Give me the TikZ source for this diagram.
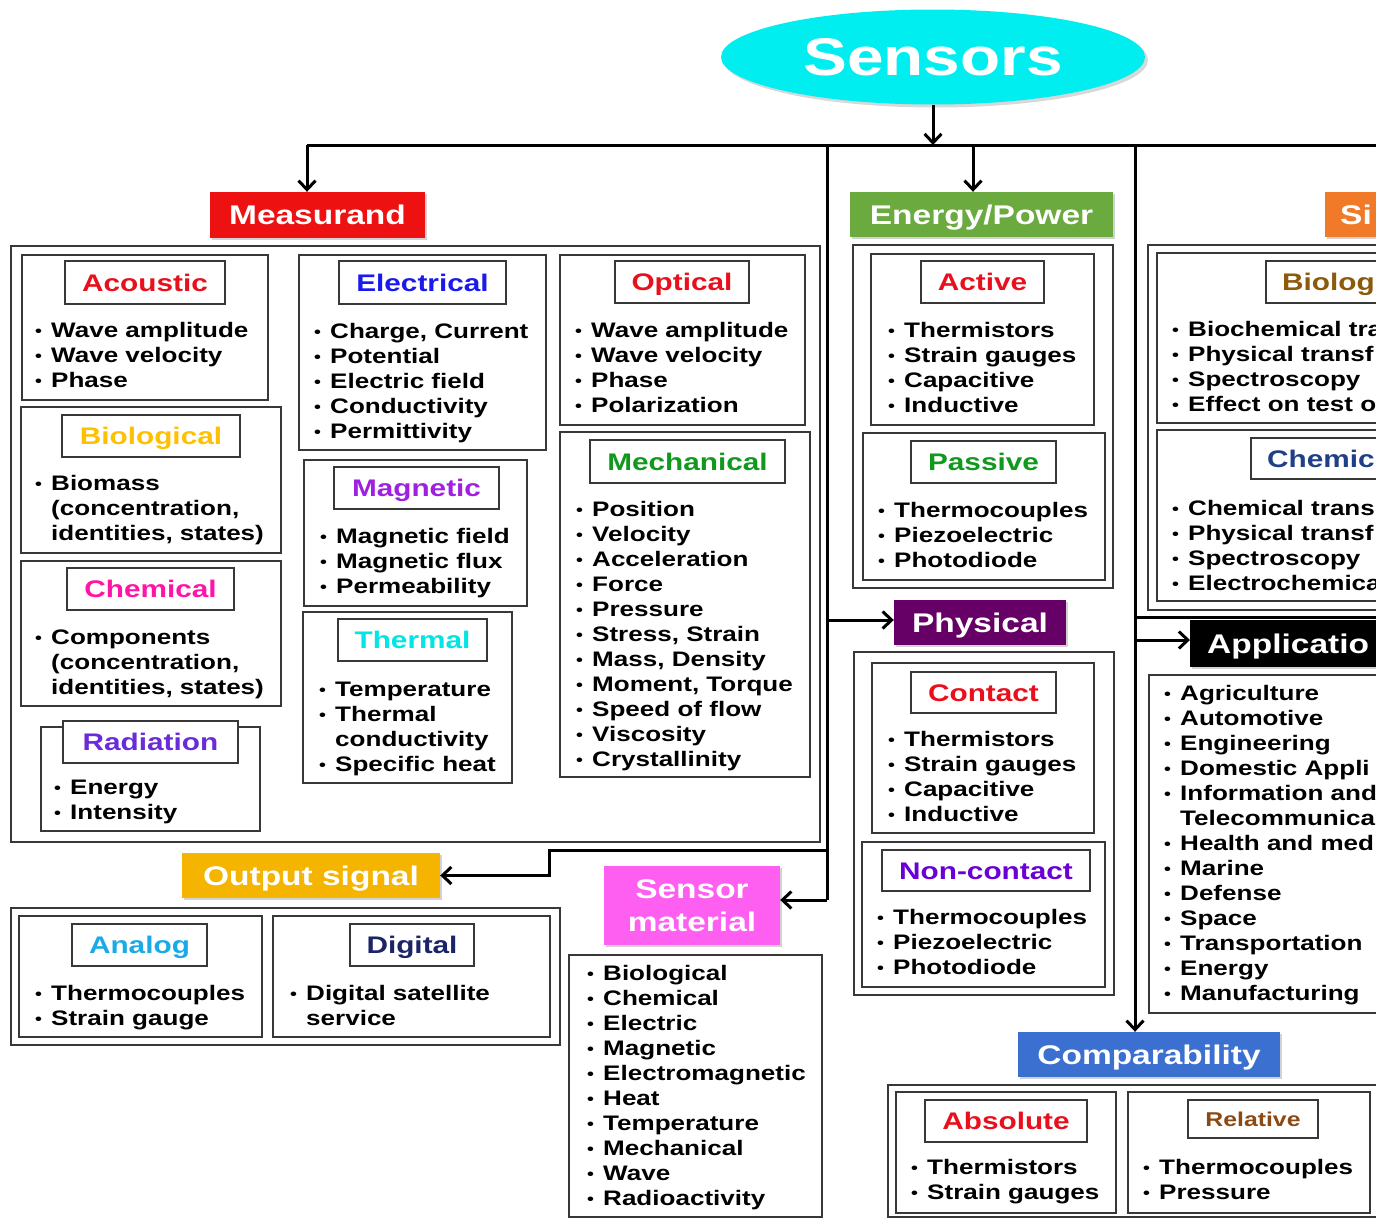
\documentclass[tikz,border=0pt]{standalone}
\usepackage{fontspec}
\setmainfont{Liberation Sans}[FakeStretch=1.24]
\usetikzlibrary{arrows.meta,shadows,shapes.geometric}
\definecolor{cyanS}{HTML}{00EEF0}
\definecolor{redL}{HTML}{EE1111}
\definecolor{greenL}{HTML}{6BAA3F}
\definecolor{purpleL}{HTML}{660066}
\definecolor{orangeL}{HTML}{F07A28}
\definecolor{blueL}{HTML}{3B6FD0}
\definecolor{goldL}{HTML}{F4B400}
\definecolor{pinkL}{HTML}{FF5FF0}
\definecolor{tRed}{HTML}{E8101C}
\definecolor{tGold}{HTML}{FFC000}
\definecolor{tPink}{HTML}{FF14A8}
\definecolor{tViolet}{HTML}{6A2BD8}
\definecolor{tBlue}{HTML}{1A1AEE}
\definecolor{tMag}{HTML}{A020E0}
\definecolor{tCyan}{HTML}{00E5E5}
\definecolor{tGreen}{HTML}{11991E}
\definecolor{tNon}{HTML}{6A00D6}
\definecolor{tBrown}{HTML}{8C5A0A}
\definecolor{tNavy}{HTML}{1F3F86}
\definecolor{tRel}{HTML}{8B4A14}
\definecolor{tSky}{HTML}{1AAAE8}
\definecolor{tDig}{HTML}{1B2466}
\newcommand\itemfont{\bfseries\fontsize{21}{25}\selectfont}
\newcommand\ttlfont{\bfseries\fontsize{24}{28}\selectfont}
\newcommand\lblfont{\bfseries\fontsize{27}{33}\selectfont}
\newcommand\bl{\strut\makebox[16pt][l]{\raisebox{1pt}{\scalebox{0.75}{\textbullet}}}}
\newcommand\ct{\strut\hspace*{16pt}}
\newcommand\tbox[7]{\node[ttl,text=#6,minimum width={#4-#2},minimum height={#5-#3}] (#1) at ({(#2+#4)/2},{(#3+#5)/2}) {#7};}
\newcommand\lbox[7]{\node[lbl,fill=#6,minimum width={#4-#2},minimum height={#5-#3}] (#1) at ({(#2+#4)/2},{(#3+#5)/2}) {#7};}
\newcommand\itm[4]{\node[items] (#1) at (#2,{#3-10}) {#4};}
\begin{document}
\begin{tikzpicture}[x=1pt,y=-1pt,
  box/.style={draw=black!78,line width=1.8pt},
  ttl/.style={draw=black!78,line width=1.8pt,fill=white,font=\ttlfont,inner sep=0pt,text height=17.5pt,text depth=0pt},
  lbl/.style={font=\lblfont,text=white,inner sep=0pt,text height=19.5pt,text depth=0pt,drop shadow={shadow xshift=2pt,shadow yshift=-2pt,opacity=0.35}},
  items/.style={anchor=north west,inner sep=0pt,align=left,font=\itemfont},
  conn/.style={line width=3pt,draw=black},
  arr/.style={conn,-{Straight Barb[length=9pt,width=17pt,line width=3pt]}}]
\useasboundingbox (0,0) rectangle (1376,1218);
\clip (0,0) rectangle (1376,1218);
\fill[white] (0,0) rectangle (1376,1218);

% ---------- Sensors ----------
\node[ellipse,fill=cyanS,minimum width=424,minimum height=95,inner sep=0pt,text=white,
  font=\bfseries\fontsize{53}{60}\selectfont,drop shadow={shadow xshift=3pt,shadow yshift=-3pt,opacity=0.3}] (sens) at (933,57) {Sensors};

% ---------- Measurand ----------
\lbox{meas}{210}{192}{425}{238}{redL}{Measurand}
\draw[box] (11,246) rectangle (820,842);
\draw[box] (22,255) rectangle (268,400);
\tbox{tAco}{65}{261}{225}{304}{tRed}{Acoustic}
\itm{iAco}{35}{330}{\bl Wave amplitude\\\bl Wave velocity\\\bl Phase}
\draw[box] (21,407) rectangle (281,553);
\tbox{tBio}{62}{415}{240}{457}{tGold}{Biological}
\itm{iBio}{35}{483}{\bl Biomass\\\ct (concentration,\\\ct identities, states)}
\draw[box] (21,561) rectangle (281,706);
\tbox{tChe}{67}{568}{234}{610}{tPink}{Chemical}
\itm{iChe}{35}{637}{\bl Components\\\ct (concentration,\\\ct identities, states)}
\draw[box] (41,727) rectangle (260,831);
\tbox{tRad}{63}{721}{238}{763}{tViolet}{Radiation}
\itm{iRad}{54}{787}{\bl Energy\\\bl Intensity}
\draw[box] (299,255) rectangle (546,450);
\tbox{tEle}{339}{261}{506}{304}{tBlue}{Electrical}
\itm{iEle}{314}{331}{\bl Charge, Current\\\bl Potential\\\bl Electric field\\\bl Conductivity\\\bl Permittivity}
\draw[box] (304,460) rectangle (527,606);
\tbox{tMag}{334}{467}{499}{509}{tMag}{Magnetic}
\itm{iMag}{320}{536}{\bl Magnetic field\\\bl Magnetic flux\\\bl Permeability}
\draw[box] (303,612) rectangle (512,783);
\tbox{tThe}{338}{619}{487}{661}{tCyan}{Thermal}
\itm{iThe}{319}{689}{\bl Temperature\\\bl Thermal\\\ct conductivity\\\bl Specific heat}
\draw[box] (560,255) rectangle (805,425);
\tbox{tOpt}{615}{261}{749}{303}{tRed}{Optical}
\itm{iOpt}{575}{330}{\bl Wave amplitude\\\bl Wave velocity\\\bl Phase\\\bl Polarization}
\draw[box] (560,432) rectangle (810,777);
\tbox{tMec}{590}{440}{785}{483}{tGreen}{Mechanical}
\itm{iMec}{576}{509}{\bl Position\\\bl Velocity\\\bl Acceleration\\\bl Force\\\bl Pressure\\\bl Stress, Strain\\\bl Mass, Density\\\bl Moment, Torque\\\bl Speed of flow\\\bl Viscosity\\\bl Crystallinity}

% ---------- Energy/Power ----------
\lbox{ener}{850}{192}{1113}{237}{greenL}{Energy/Power}
\draw[box] (853,245) rectangle (1113,588);
\draw[box] (871,254) rectangle (1094,425);
\tbox{tAct}{921}{261}{1044}{303}{tRed}{Active}
\itm{iAct}{888}{330}{\bl Thermistors\\\bl Strain gauges\\\bl Capacitive\\\bl Inductive}
\draw[box] (863,433) rectangle (1105,580);
\tbox{tPas}{911}{441}{1056}{483}{tGreen}{Passive}
\itm{iPas}{878}{510}{\bl Thermocouples\\\bl Piezoelectric\\\bl Photodiode}

% ---------- Physical ----------
\lbox{phys}{894}{600}{1066}{645}{purpleL}{Physical}
\draw[box] (854,652) rectangle (1114,995);
\draw[box] (872,663) rectangle (1094,833);
\tbox{tCon}{911}{672}{1056}{713}{tRed}{Contact}
\itm{iCon}{888}{739}{\bl Thermistors\\\bl Strain gauges\\\bl Capacitive\\\bl Inductive}
\draw[box] (862,842) rectangle (1105,987);
\tbox{tNon}{882}{850}{1090}{891}{tNon}{Non-contact}
\itm{iNon}{877}{917}{\bl Thermocouples\\\bl Piezoelectric\\\bl Photodiode}

% ---------- Right group (cut off at the edge, as in the reference) ----------
\node[lbl,fill=orangeL,anchor=west,minimum height=45,text width=90pt,inner xsep=15pt,align=left] (sig) at (1325,214.5) {Si};
\draw[box] (1148,245) rectangle (1420,610);
\draw[box] (1157,253) rectangle (1420,423);
\draw[box] (1266,261) rectangle (1420,303);
\node[anchor=west,font=\ttlfont,text=tBrown,inner sep=0pt,text height=17.5pt,text depth=0pt] (tBioR) at (1282,282) {Biolog};
\itm{iBioR}{1172}{329}{\bl Biochemical tra\\\bl Physical transf\\\bl Spectroscopy\\\bl Effect on test o}
\draw[box] (1157,430) rectangle (1420,601);
\draw[box] (1251,438) rectangle (1420,479);
\node[anchor=west,font=\ttlfont,text=tNavy,inner sep=0pt,text height=17.5pt,text depth=0pt] (tCheR) at (1267,458.5) {Chemic};
\itm{iCheR}{1172}{508}{\bl Chemical trans\\\bl Physical transf\\\bl Spectroscopy\\\bl Electrochemica}

% ---------- Applications ----------
\node[lbl,fill=black,anchor=west,minimum height=47,text width=200pt,inner xsep=17pt,align=left] (app) at (1190,643.5) {Applicatio};
\draw[box] (1149,675) rectangle (1420,1013);
\itm{iApp}{1164}{693}{\bl Agriculture\\\bl Automotive\\\bl Engineering\\\bl Domestic Appli\\\bl Information and\\\ct Telecommunica\\\bl Health and med\\\bl Marine\\\bl Defense\\\bl Space\\\bl Transportation\\\bl Energy\\\bl Manufacturing}

% ---------- Comparability ----------
\lbox{comp}{1018}{1032}{1280}{1077}{blueL}{Comparability}
\draw[box] (888,1085) rectangle (1420,1217);
\draw[box] (896,1092) rectangle (1116,1213);
\tbox{tAbs}{925}{1100}{1087}{1142}{tRed}{Absolute}
\itm{iAbs}{911}{1167}{\bl Thermistors\\\bl Strain gauges}
\draw[box] (1128,1092) rectangle (1370,1213);
\node[ttl,text=tRel,font=\bfseries\fontsize{20}{24}\selectfont,text height=14.5pt,minimum width=130,minimum height=38] (tRel) at (1253,1119) {Relative};
\itm{iRel}{1143}{1167}{\bl Thermocouples\\\bl Pressure}

% ---------- Output signal ----------
\lbox{outs}{182}{853}{440}{898}{goldL}{Output signal}
\draw[box] (11,908) rectangle (560,1045);
\draw[box] (19,916) rectangle (262,1037);
\tbox{tAna}{72}{924}{207}{966}{tSky}{Analog}
\itm{iAna}{35}{993}{\bl Thermocouples\\\bl Strain gauge}
\draw[box] (273,916) rectangle (550,1037);
\tbox{tDig}{350}{924}{474}{966}{tDig}{Digital}
\itm{iDig}{290}{993}{\bl Digital satellite\\\ct service}

% ---------- Sensor material ----------
\node[font=\lblfont,text=white,fill=pinkL,inner sep=0pt,align=center,minimum width=176,minimum height=79,
  drop shadow={shadow xshift=2pt,shadow yshift=-2pt,opacity=0.35}] (smat) at (692,905.5) {Sensor\\material};
\draw[box] (569,955) rectangle (822,1217);
\itm{iSm}{587}{973}{\bl Biological\\\bl Chemical\\\bl Electric\\\bl Magnetic\\\bl Electromagnetic\\\bl Heat\\\bl Temperature\\\bl Mechanical\\\bl Wave\\\bl Radioactivity}

% ---------- Connectors ----------
\coordinate (busL) at (307,145);
\coordinate (busR) at (1376,145);
\coordinate (busE) at (973,145);
\coordinate (v1top) at (827,145);
\coordinate (v1p) at (827,620);
\coordinate (v1o) at (827,850);
\coordinate (bend) at (549,850);
\coordinate (v1bot) at (827,900);
\coordinate (v2top) at (1135,145);
\coordinate (v2b) at (1135,617);
\coordinate (v2a) at (1135,640);
\coordinate (rEdge) at (1376,617);
\draw[arr] (sens.south) -- (sens.south |- busL);
\draw[conn] (busL) -- (busR);
\draw[arr] (busL) -- (busL |- meas.north);
\draw[arr] (busE) -- (busE |- ener.north);
\draw[conn] (v1top) -- (v1bot);
\draw[arr] (v1bot) -- (v1bot -| smat.east);
\draw[arr] (v1p) -- (v1p -| phys.west);
\draw[arr] (v1o) -- (bend) -- (bend |- outs.east) -- (outs.east);
\draw[arr] (v2top) -- (v2top |- comp.north);
\draw[arr] (v2a) -- (v2a -| app.west);
\draw[conn] (v2b) -- (rEdge);
\end{tikzpicture}
\end{document}
